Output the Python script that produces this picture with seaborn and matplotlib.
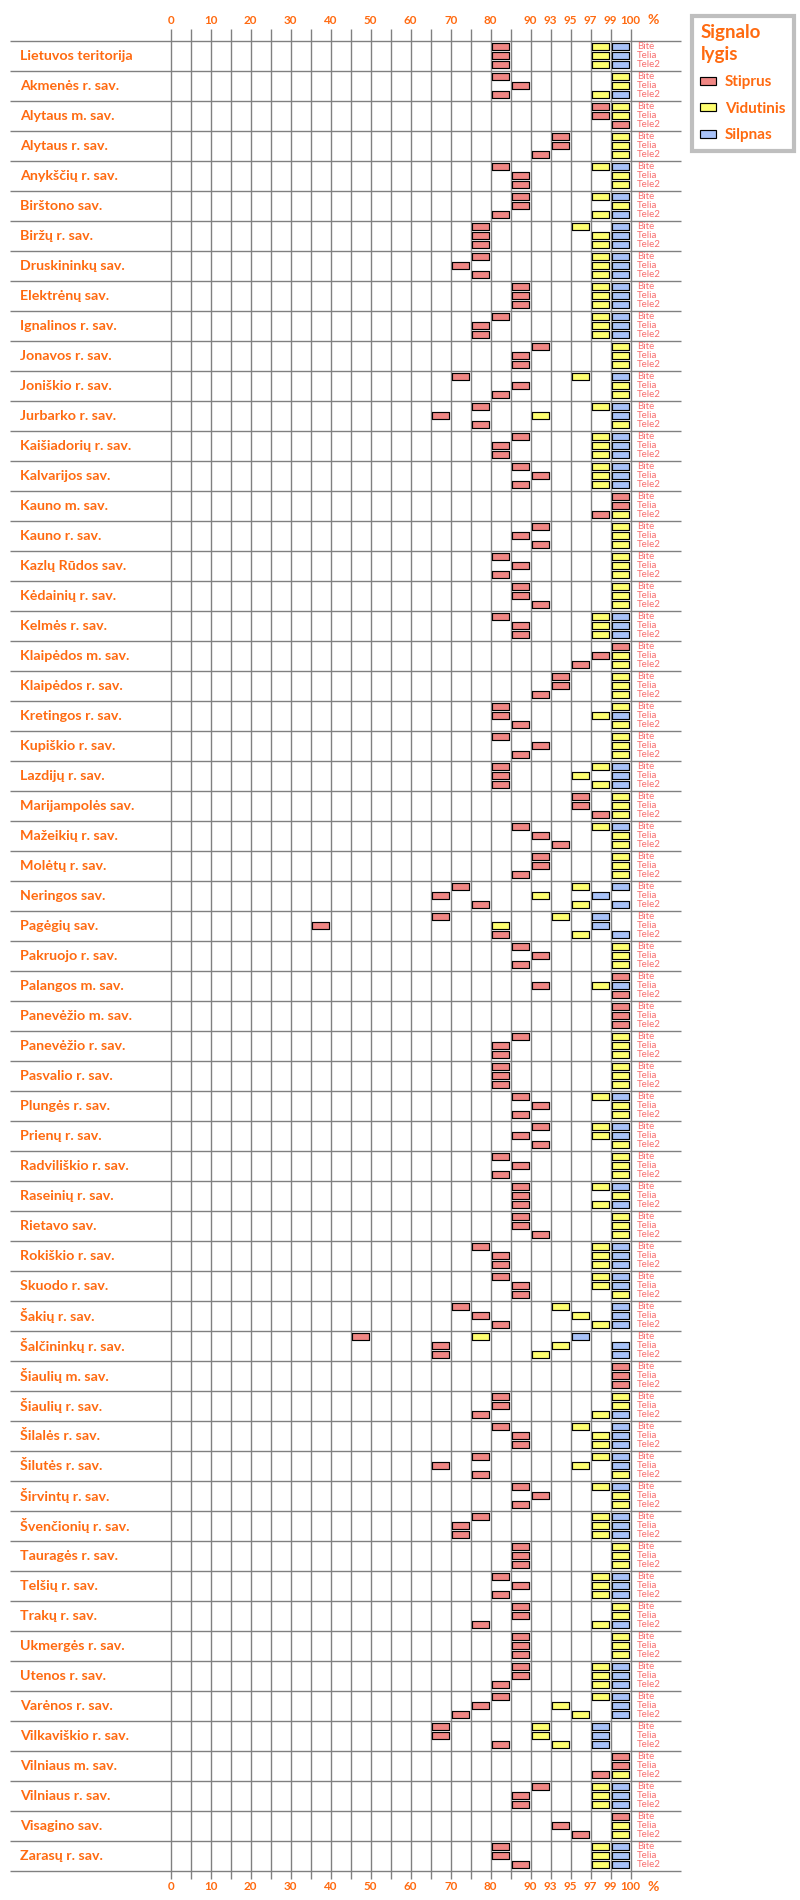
import numpy as np
import pandas as pd
import matplotlib
matplotlib.use("Agg")
import matplotlib.pyplot as plt
from matplotlib.path import Path
from matplotlib.patches import Patch
import seaborn as sns

# ---------------- data ----------------
municipalities = [
    "Lietuvos teritorija", "Akmenės r. sav.", "Alytaus m. sav.", "Alytaus r. sav.",
    "Anykščių r. sav.", "Birštono sav.", "Biržų r. sav.", "Druskininkų sav.",
    "Elektrėnų sav.", "Ignalinos r. sav.", "Jonavos r. sav.", "Joniškio r. sav.",
    "Jurbarko r. sav.", "Kaišiadorių r. sav.", "Kalvarijos sav.", "Kauno m. sav.",
    "Kauno r. sav.", "Kazlų Rūdos sav.", "Kėdainių r. sav.", "Kelmės r. sav.",
    "Klaipėdos m. sav.", "Klaipėdos r. sav.", "Kretingos r. sav.", "Kupiškio r. sav.",
    "Lazdijų r. sav.", "Marijampolės sav.", "Mažeikių r. sav.", "Molėtų r. sav.",
    "Neringos sav.", "Pagėgių sav.", "Pakruojo r. sav.", "Palangos m. sav.",
    "Panevėžio m. sav.", "Panevėžio r. sav.", "Pasvalio r. sav.", "Plungės r. sav.",
    "Prienų r. sav.", "Radviliškio r. sav.", "Raseinių r. sav.", "Rietavo sav.",
    "Rokiškio r. sav.", "Skuodo r. sav.", "Šakių r. sav.", "Šalčininkų r. sav.",
    "Šiaulių m. sav.", "Šiaulių r. sav.", "Šilalės r. sav.", "Šilutės r. sav.",
    "Širvintų r. sav.", "Švenčionių r. sav.", "Tauragės r. sav.", "Telšių r. sav.",
    "Trakų r. sav.", "Ukmergės r. sav.", "Utenos r. sav.", "Varėnos r. sav.",
    "Vilkaviškio r. sav.", "Vilniaus m. sav.", "Vilniaus r. sav.", "Visagino sav.",
    "Zarasų r. sav.",
]
operators = ["Bitė", "Telia", "Tele2"]
levels = ["Stiprus", "Vidutinis", "Silpnas"]

# bin edges of the (non-linear) percentage axis
edges = [0, 5, 10, 15, 20, 25, 30, 35, 40, 45, 50, 55, 60, 65, 70, 75, 80, 85,
         90, 93, 95, 97, 99, 100]
tick_values = [0, 10, 20, 30, 40, 50, 60, 70, 80, 90, 93, 95, 97, 99, 100]

N = np.nan
# coverage (%) per municipality: [Bitė, Telia, Tele2]
stiprus = [
    [82, 82, 82], [82, 87, 82], [98, 98, 99.5], [94, 94, 91], [82, 87, 87],
    [87, 87, 82], [77, 77, 77], [77, 72, 77], [87, 87, 87], [82, 77, 77],
    [91, 87, 87], [72, 87, 82], [77, 67, 77], [87, 82, 82], [87, 91, 87],
    [99.5, 99.5, 98], [91, 87, 91], [82, 87, 82], [87, 87, 91], [82, 87, 87],
    [99.5, 98, 96], [94, 94, 91], [82, 82, 87], [82, 91, 87], [82, 82, 82],
    [96, 96, 98], [87, 91, 94], [91, 91, 87], [72, 67, 77], [67, 37, 82],
    [87, 91, 87], [99.5, 91, 99.5], [99.5, 99.5, 99.5], [87, 82, 82], [82, 82, 82],
    [87, 91, 87], [91, 87, 91], [82, 87, 82], [87, 87, 87], [87, 87, 91],
    [77, 82, 82], [82, 87, 87], [72, 77, 82], [47, 67, 67], [99.5, 99.5, 99.5],
    [82, 82, 77], [82, 87, 87], [77, 67, 77], [87, 91, 87], [77, 72, 72],
    [87, 87, 87], [82, 87, 82], [87, 87, 77], [87, 87, 87], [87, 87, 82],
    [82, 77, 72], [67, 67, 82], [99.5, 99.5, 98], [91, 87, 87], [99.5, 94, 96],
    [82, 82, 87],
]
vidutinis = [
    [98, 98, 98], [99.5, 99.5, 98], [99.5, 99.5, N], [99.5, 99.5, 99.5], [98, 99.5, 99.5],
    [98, 99.5, 98], [96, 98, 98], [98, 98, 98], [98, 98, 98], [98, 98, 98],
    [99.5, 99.5, 99.5], [96, 99.5, 99.5], [98, 91, 99.5], [98, 98, 98], [98, 98, 98],
    [N, N, 99.5], [99.5, 99.5, 99.5], [99.5, 99.5, 99.5], [99.5, 99.5, 99.5], [98, 98, 98],
    [N, 99.5, 99.5], [99.5, 99.5, 99.5], [99.5, 98, 99.5], [99.5, 99.5, 99.5], [98, 96, 98],
    [99.5, 99.5, 99.5], [98, 99.5, 99.5], [99.5, 99.5, 99.5], [96, 91, 96], [94, 82, 96],
    [99.5, 99.5, 99.5], [N, 98, N], [N, N, N], [99.5, 99.5, 99.5], [99.5, 99.5, 99.5],
    [98, 99.5, 99.5], [98, 98, 99.5], [99.5, 99.5, 99.5], [98, 99.5, 98], [99.5, 99.5, 99.5],
    [98, 98, 98], [98, 98, 99.5], [94, 96, 98], [77, 94, 91], [N, N, N],
    [99.5, 99.5, 98], [96, 98, 98], [98, 96, 99.5], [98, 99.5, 99.5], [98, 98, 98],
    [99.5, 99.5, 99.5], [98, 98, 98], [99.5, 99.5, 98], [99.5, 99.5, 99.5], [98, 98, 98],
    [98, 94, 96], [91, 91, 94], [N, N, 99.5], [98, 98, 98], [N, 99.5, 99.5],
    [98, 98, 98],
]
silpnas = [
    [99.5, 99.5, 99.5], [N, N, 99.5], [N, N, N], [N, N, N], [99.5, N, N],
    [99.5, N, 99.5], [99.5, 99.5, 99.5], [99.5, 99.5, 99.5], [99.5, 99.5, 99.5], [99.5, 99.5, 99.5],
    [N, N, N], [99.5, N, N], [99.5, 99.5, N], [99.5, 99.5, 99.5], [99.5, 99.5, 99.5],
    [N, N, N], [N, N, N], [N, N, N], [N, N, N], [99.5, 99.5, 99.5],
    [N, N, N], [N, N, N], [N, 99.5, N], [N, N, N], [99.5, 99.5, 99.5],
    [N, N, N], [99.5, N, N], [N, N, N], [99.5, 98, 99.5], [98, 98, 99.5],
    [N, N, N], [N, 99.5, N], [N, N, N], [N, N, N], [N, N, N],
    [99.5, N, N], [99.5, 99.5, N], [N, N, N], [99.5, N, 99.5], [N, N, N],
    [99.5, 99.5, 99.5], [99.5, 99.5, N], [99.5, 99.5, 99.5], [96, 99.5, 99.5], [N, N, N],
    [N, N, 99.5], [99.5, 99.5, 99.5], [99.5, 99.5, N], [99.5, N, N], [99.5, 99.5, 99.5],
    [N, N, N], [99.5, 99.5, 99.5], [N, N, 99.5], [N, N, N], [99.5, 99.5, 99.5],
    [99.5, 99.5, 99.5], [98, 98, 98], [N, N, N], [99.5, 99.5, 99.5], [N, N, N],
    [99.5, 99.5, 99.5],
]

# ---------------- style ----------------
sns.set_style("white")
FONT = ["Lato", "DejaVu Sans"]
plt.rcParams["font.family"] = FONT
ORANGE = "#FF6A10"
PINK = "#F86E6E"
GRID = "#808080"
palette = {"Stiprus": "#F08784", "Vidutinis": "#FFFF70", "Silpnas": "#A8C2F8"}

# ---------------- scale: piecewise linear percent axis ----------------
E = np.array(edges, dtype=float)
IDX = np.arange(len(E), dtype=float)


def fwd(p):
    p = np.asarray(p, dtype=float)
    out = np.interp(p, E, IDX)
    out = np.where(p < 0, p / 5.0, out)
    out = np.where(p > 100, 23 + (p - 100), out)
    return out


def inv(i):
    i = np.asarray(i, dtype=float)
    out = np.interp(i, IDX, E)
    out = np.where(i < 0, i * 5.0, out)
    out = np.where(i > 23, 100 + (i - 23), out)
    return out


def bin_center(v):
    k = np.clip(np.searchsorted(E, v, side="right") - 1, 0, len(E) - 2)
    return (E[k] + E[k + 1]) / 2.0


# ---------------- long-form table ----------------
rows = []
for lvl, arr in zip(levels, [stiprus, vidutinis, silpnas]):
    for r, trip in enumerate(arr):
        for k, v in enumerate(trip):
            if not np.isnan(v):
                rows.append({"level": lvl, "value": v, "pos": bin_center(v),
                             "y": r * 3 + 0.58 + 0.9 * k})
df = pd.DataFrame(rows)

# ---------------- figure ----------------
W, H = 800, 1900
fig = plt.figure(figsize=(W / 100, H / 100), dpi=100)
ax = fig.add_axes([0, 0, 1, 1])
ax.set_xscale("function", functions=(fwd, inv))
X0 = 170.67  # pixel of 0 %
CELL = 20.0   # pixel width of a bin


def px2x(px):
    return float(inv((px - X0) / CELL))


Y0 = 40.7  # pixel of first horizontal line


def px2y(py):
    return (py - Y0) / 10.0


n = len(municipalities)
# grid
ax.vlines(E, px2y(29.5), px2y(1879.5), color=GRID, lw=1.0, zorder=1)
ax.hlines(np.arange(n + 1) * 3, px2x(10), px2x(681), color=GRID, lw=1.0, zorder=1)

# boxes
rect = Path([(-1, -0.4), (1, -0.4), (1, 0.4), (-1, 0.4), (-1, -0.4)],
            [Path.MOVETO, Path.LINETO, Path.LINETO, Path.LINETO, Path.CLOSEPOLY])
sns.scatterplot(data=df, x="pos", y="y", hue="level", palette=palette,
                hue_order=levels, marker=rect, s=141, edgecolor="black",
                linewidth=0.85, legend=False, ax=ax, zorder=3)
ax.set_xlabel("")
ax.set_ylabel("")
ax.set_xlim(px2x(0), px2x(W))
ax.set_ylim(px2y(H), px2y(0))
ax.axis("off")

# municipality names and operator labels
for r, name in enumerate(municipalities):
    ax.text(px2x(20), r * 3 + 1.5, name, color=ORANGE, fontsize=10.3,
            fontweight="bold", ha="left", va="center")
    for k, op in enumerate(operators):
        ax.text(px2x(637), r * 3 + 0.58 + 0.9 * k, op, color=PINK, fontsize=7.0,
                ha="left", va="center")

# tick labels top and bottom
for tv in tick_values:
    for ypx in (20.5, 1887):
        ax.text(tv, px2y(ypx), str(tv), color=ORANGE, fontsize=8.4,
                fontweight="bold", ha="center", va="center")
for ypx in (20.5, 1887):
    ax.text(px2x(653), px2y(ypx), "%", color=ORANGE, fontsize=10,
            fontweight="bold", ha="center", va="center")

# legend
handles = [Patch(facecolor=palette[l], edgecolor="black", lw=0.85, label=l) for l in levels]
leg = fig.legend(handles=handles, title="Signalo\nlygis", loc="upper left",
                 bbox_to_anchor=(692 / W, 1 - 16 / H), fontsize=11,
                 title_fontsize=13.5, handlelength=1.05, handleheight=0.45,
                 handletextpad=0.55, labelspacing=0.82, borderpad=0.55,
                 borderaxespad=0, alignment="left", fancybox=False,
                 framealpha=1)
leg.get_frame().set_edgecolor("#BFBFBF")
leg.get_frame().set_linewidth(3.0)
plt.setp(leg.get_title(), color=ORANGE, fontweight="bold", linespacing=1.3)
for t in leg.get_texts():
    t.set_color(ORANGE)
    t.set_fontweight("bold")

fig.savefig("out.png", dpi=100)
